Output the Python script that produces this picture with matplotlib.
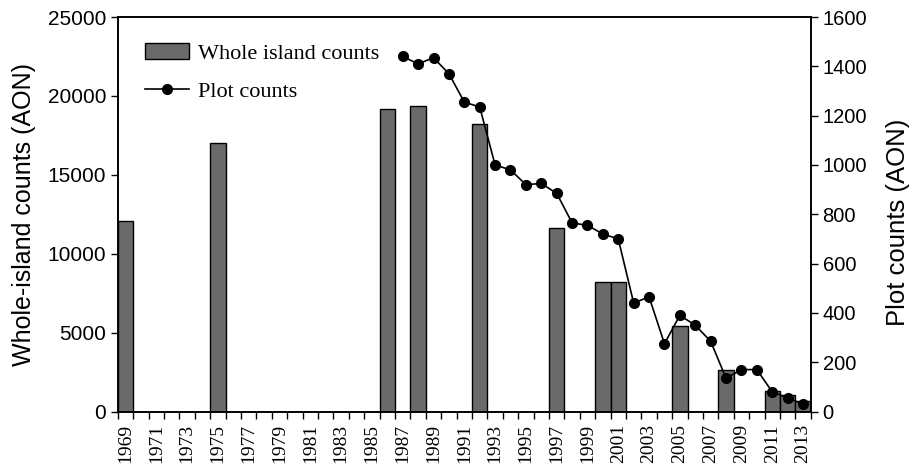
import numpy as np
import matplotlib.pyplot as plt
from matplotlib.ticker import FixedLocator, NullFormatter

# survey years shown on the x axis (one slot per year)
years = list(range(1969, 2014))

# whole-island counts (AON), left axis
island_years = [1969, 1975, 1986, 1988, 1992, 1997, 2000, 2001, 2005, 2008, 2011, 2012, 2013]
island_counts = [12100, 17000, 19150, 19350, 18200, 11600, 8200, 8200, 5400, 2600, 1300, 1050, 650]

# plot counts (AON), right axis
plot_years = list(range(1987, 2014))
plot_counts = [1440, 1410, 1435, 1370, 1255, 1235, 1000, 980, 920, 925, 885,
               765, 755, 720, 700, 440, 465, 275, 390, 350, 285, 135, 170,
               170, 80, 55, 30]

serif = "Liberation Serif"
sans = "Liberation Sans"

fig = plt.figure(figsize=(9.14, 4.73), dpi=100)
ax = fig.add_axes([0.129, 0.13, 0.758, 0.834])

xi = np.array([years.index(y) for y in island_years])
bars = ax.bar(xi, island_counts, width=1.0, color="#6a6a6a", edgecolor="black",
              linewidth=1.0, label="Whole island counts", zorder=2)

ax.set_xlim(-0.5, len(years) - 0.5)
ax.set_ylim(0, 25000)
ax.set_yticks([0, 5000, 10000, 15000, 20000, 25000])
ax.tick_params(axis="y", labelsize=15, direction="out", length=5, width=1)
for t in ax.get_yticklabels():
    t.set_family(sans)
ax.set_ylabel("Whole-island counts (AON)", fontsize=18, family=sans, labelpad=8)

# labels every other year at slot centres, tick marks at slot boundaries
ax.xaxis.set_major_locator(FixedLocator(np.arange(0, len(years), 2)))
ax.set_xticklabels([str(y) for y in years[::2]], rotation=90, fontsize=14, family=serif)
ax.xaxis.set_minor_locator(FixedLocator(np.arange(-0.5, len(years), 1)))
ax.xaxis.set_minor_formatter(NullFormatter())
ax.tick_params(axis="x", which="major", length=0, pad=9)
ax.tick_params(axis="x", which="minor", length=5, width=1, direction="out")

ax2 = ax.twinx()
xp = np.array([years.index(y) for y in plot_years])
line, = ax2.plot(xp, plot_counts, color="black", linewidth=1.2, marker="o",
                 markersize=7, label="Plot counts", zorder=3)
ax2.set_ylim(0, 1600)
ax2.set_yticks(np.arange(0, 1601, 200))
ax2.tick_params(axis="y", labelsize=14.5, direction="out", length=5, width=1)
for t in ax2.get_yticklabels():
    t.set_family(sans)
ax2.set_ylabel("Plot counts (AON)", fontsize=18.5, family=sans, labelpad=12)
ax2.yaxis.set_label_coords(1.109, 0.48)

for a in (ax, ax2):
    for s in a.spines.values():
        s.set_linewidth(1.2)

ax.legend([bars, line], ["Whole island counts", "Plot counts"], loc="upper left",
          bbox_to_anchor=(0.01, 0.985), frameon=False, handlelength=2.0,
          prop={"family": serif, "size": 16}, labelspacing=0.8, handletextpad=0.4)

fig.savefig("out.png", dpi=100)
